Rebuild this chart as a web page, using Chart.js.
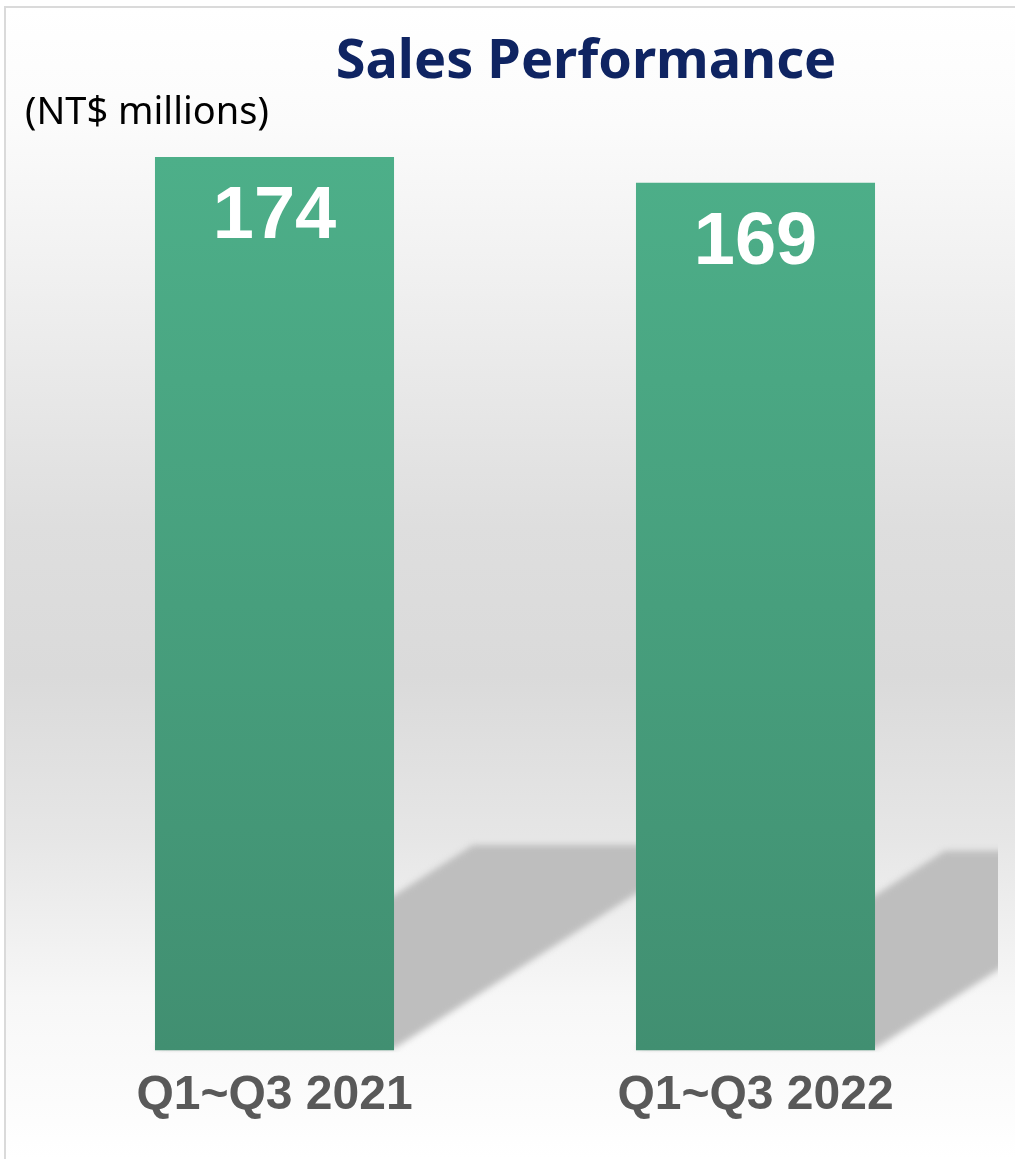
<!DOCTYPE html>
<html>
<head>
<meta charset="utf-8">
<script src="https://cdn.jsdelivr.net/npm/chart.js@4/dist/chart.umd.min.js"></script>
<style>
  html, body { margin: 0; padding: 0; background: #fff; }
  #wrap { width: 1015px; height: 1159px; position: relative; }
</style>
</head>
<body>
<div id="wrap"><canvas id="chart"></canvas></div>
<script>
const categories = ["Q1~Q3 2021", "Q1~Q3 2022"];
const sales = [174, 169];
const chartTitle = "Sales Performance";
const unitLabel = "(NT$ millions)";

// page background, frame, title and unit
const backdrop = {
  id: "backdrop",
  beforeDraw(chart) {
    const { ctx, width, height } = chart;
    ctx.save();
    ctx.fillStyle = "#ffffff";
    ctx.fillRect(0, 0, width, height);
    const g = ctx.createLinearGradient(0, 8, 0, height);
    g.addColorStop(0, "#ffffff");
    g.addColorStop(0.1, "#fbfbfb");
    g.addColorStop(0.26, "#eeeeee");
    g.addColorStop(0.45, "#dedede");
    g.addColorStop(0.58, "#dadada");
    g.addColorStop(0.72, "#e6e6e6");
    g.addColorStop(0.86, "#f7f7f7");
    g.addColorStop(0.95, "#fcfcfc");
    g.addColorStop(1, "#ffffff");
    ctx.fillStyle = g;
    ctx.fillRect(6, 8, width - 6, height - 8);
    ctx.fillStyle = "#dadada";
    ctx.fillRect(4, 6, width - 4, 2);
    ctx.fillRect(4, 6, 2, height - 6);

    ctx.fillStyle = "#0f2462";
    ctx.font = "bold 54px 'Noto Sans'";
    ctx.textAlign = "center";
    ctx.textBaseline = "middle";
    ctx.fillText(chartTitle, 586, 63);
    ctx.fillStyle = "#000000";
    ctx.font = "38px 'Noto Sans'";
    ctx.textAlign = "left";
    ctx.fillText(unitLabel, 25, 113);
    ctx.restore();
  },
  beforeDatasetsDraw(chart) {
    const { ctx, chartArea } = chart;
    ctx.save();
    ctx.beginPath();
    ctx.rect(chartArea.left, 0, chartArea.right - chartArea.left + 2, chartArea.bottom + 2);
    ctx.clip();
    ctx.filter = "blur(3px)";
    ctx.fillStyle = "#bebebe";
    chart.getDatasetMeta(0).data.forEach((bar) => {
      const left = bar.x - bar.width / 2;
      const right = bar.x + bar.width / 2;
      const h = bar.base - bar.y;
      const dx = h * 0.356;
      const dy = h * 0.23;
      ctx.beginPath();
      ctx.moveTo(left, bar.base - 2);
      ctx.lineTo(right, bar.base - 2);
      ctx.lineTo(right + dx, bar.base - dy);
      ctx.lineTo(left + dx, bar.base - dy);
      ctx.closePath();
      ctx.fill();
    });
    ctx.restore();
  },
  afterDatasetsDraw(chart) {
    const { ctx } = chart;
    ctx.save();
    ctx.fillStyle = "#ffffff";
    ctx.font = "bold 74px 'Liberation Sans', Arial";
    ctx.textAlign = "center";
    ctx.textBaseline = "middle";
    chart.getDatasetMeta(0).data.forEach((bar, i) => {
      ctx.fillText(String(sales[i]), bar.x, bar.y + 61);
    });
    ctx.restore();
  }
};

const ctx = document.getElementById("chart");
new Chart(ctx, {
  type: "bar",
  data: {
    labels: categories,
    datasets: [
      {
        data: sales,
        backgroundColor: (c) => {
          const area = c.chart.chartArea;
          if (!area) return "#48a07e";
          const g = c.chart.ctx.createLinearGradient(0, area.top, 0, area.bottom);
          g.addColorStop(0, "#4daf89");
          g.addColorStop(1, "#418f71");
          return g;
        },
        borderWidth: 0,
        categoryPercentage: 1,
        barPercentage: 0.497,
      },
    ],
  },
  options: {
    responsive: true,
    maintainAspectRatio: false,
    animation: false,
    layout: { padding: { left: 34, right: 19, top: 157, bottom: 17 } },
    plugins: {
      legend: { display: false },
      tooltip: { enabled: false },
    },
    scales: {
      x: {
        grid: { display: false, drawTicks: false },
        border: { display: false },
        ticks: {
          color: "#595959",
          font: { family: "'Liberation Sans', Arial", size: 48, weight: "bold" },
          padding: 17,
        },
      },
      y: {
        display: false,
        min: 0,
        max: Math.max(...sales),
      },
    },
  },
  plugins: [backdrop],
});
</script>
</body>
</html>
